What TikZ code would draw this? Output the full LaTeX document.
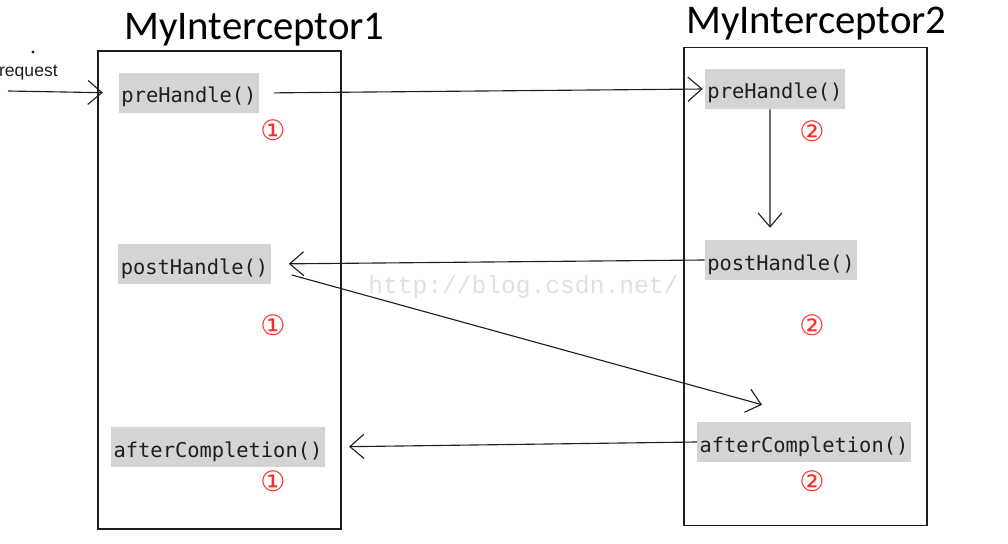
\documentclass[tikz,border=0pt]{standalone}
\usepackage{fontspec}
\newfontfamily\titlefont{Carlito}
\newfontfamily\codefont{DejaVu Sans Mono}
\newfontfamily\markfont{DejaVu Sans}
\newfontfamily\wmfont{Liberation Mono}
\newfontfamily\labelfont{Liberation Sans}
\usetikzlibrary{arrows.meta,positioning}
\definecolor{ink}{HTML}{1E1E1E}
\definecolor{methfill}{HTML}{D4D4D4}
\definecolor{stepred}{HTML}{FF2A2A}
\definecolor{wm}{HTML}{E0E0E0}
\tikzset{
  % ---- interceptor boxes -----------------------------------------
  icbox/.style   = {draw=ink, line width=1.1pt, inner sep=0pt,
                    minimum width=60.75mm, minimum height=119.5mm},
  ictitle/.style = {font=\titlefont\fontsize{29}{30}\selectfont,
                    text=black, anchor=base west, inner sep=0pt},
  % ---- handler methods -------------------------------------------
  meth/.style    = {fill=methfill, text=ink, inner xsep=0.6mm,
                    inner ysep=0pt, text height=7.5mm, text depth=2.5mm,
                    font=\codefont\fontsize{14.5}{16}\selectfont},
  order/.style   = {font=\markfont\fontsize{20}{20}\selectfont,
                    text=stepred, inner sep=0pt},
  % ---- calls -----------------------------------------------------
  call/.style    = {draw=ink, line width=.8pt,
                    -{Straight Barb[length=3.5mm,width=6mm]}},
  reqlbl/.style  = {font=\labelfont\fontsize{12.5}{13}\selectfont,
                    text=ink, anchor=east, inner sep=0pt},
  wmark/.style   = {font=\wmfont\fontsize{17.5}{18}\selectfont,
                    text=wm, anchor=west, inner sep=0pt},
}
\begin{document}
\begin{tikzpicture}[x=0.025cm, y=-0.025cm]
  \useasboundingbox (0,0) rectangle (1008,544);
  \node[wmark] (wm) at (368,287) {http://blog.csdn.net/};
  \node[ictitle] (t1) at (124,40) {MyInterceptor1};
  \node[ictitle] (t2) at (686,34) {MyInterceptor2};
  \node[icbox] (box1) at (219.5,290) {};
  \node[icbox] (box2) at (805.5,286.5) {};
  \node[meth] (pre1) at (189,93) {preHandle()};
  \node[meth] (post1) at (194.5,264) {postHandle()};
  \node[meth] (after1) at (218,447) {afterCompletion()};
  \node[meth] (pre2) at (775,89) {preHandle()};
  \node[meth] (post2) at (781,260) {postHandle()};
  \node[meth] (after2) at (804,442) {afterCompletion()};
  \node[order] (o1a) at (273,130) {①};
  \node[order] (o1b) at (273,325) {①};
  \node[order] (o1c) at (273,481) {①};
  \node[order] (o2a) at (812,131) {②};
  \node[order] (o2b) at (812,325) {②};
  \node[order] (o2c) at (812,481) {②};
  \fill[ink] (33,52) circle (1.1pt);
  \node[reqlbl] (req) at (58,73) {request};
  \coordinate (reqin) at (8,91);
  \draw[call, shorten >=4mm] (reqin) -- (pre1.west);
  \draw[call, shorten <=3.75mm, shorten >=0.5mm] (pre1.east) -- (pre2.west);
  \draw[call, shorten >=3mm] ([xshift=-1.25mm]pre2.south) -- ([xshift=-2.75mm]post2.north);
  \draw[call, shorten >=4.5mm] (post2.west) -- (post1.east);
  \draw[call] ([xshift=5.25mm,yshift=-2.75mm]post1.east) -- ([xshift=-10.5mm,yshift=4.25mm]after2.north);
  \draw[call, shorten >=6mm] (after2.west) -- (after1.east);
\end{tikzpicture}
\end{document}
